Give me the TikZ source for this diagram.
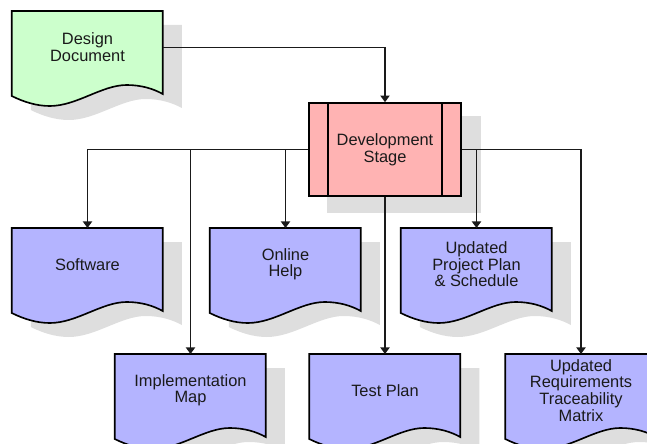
\documentclass[tikz,border=0pt]{standalone}
\usepackage{fontspec}
\setmainfont{Liberation Sans}
\usepackage{tikz}
\usetikzlibrary{arrows.meta,positioning,calc,backgrounds}
\definecolor{docgreen}{HTML}{CCFFCC}
\definecolor{devpink}{HTML}{FFB3B3}
\definecolor{docblue}{HTML}{B4B4FF}
\definecolor{shadowgrey}{HTML}{DEDEDE}
\definecolor{ink}{HTML}{1A1A1A}
\tikzset{
    every picture/.style={line join=miter},
    docpath/.style={insert path={(0,0) -- (151,0) -- (151,83)
      .. controls (142,78) and (130,74) .. (115,74)
      .. controls (90,74) and (65,95) .. (38,95)
      .. controls (25,95) and (12,91) .. (0,85) -- cycle}},
    docline/.style={draw=black,line width=1.4pt},
    docnode/.style={anchor=north,minimum width=45.3mm,minimum height=21.6mm,
      inner sep=0pt,align=center,text=ink,font=\fontsize{14}{14.2}\selectfont},
    devnode/.style={docline,fill=devpink,minimum width=45.6mm,minimum height=27.9mm,
      inner sep=0pt,align=center,text=ink,font=\fontsize{14}{14.2}\selectfont},
    flowarrow/.style={-{Triangle[length=2mm,width=2.8mm]},draw=ink,
      line width=1.15pt}
}
\begin{document}
\begin{tikzpicture}[x=0.3mm,y=-0.3mm]
  \useasboundingbox (0,0) rectangle (647,444);
  % documents
  \node[docnode] (design) at (87.5,11) {Design\\Document};
  \node[devnode] (dev) at (385,149.5) {Development\\Stage};
  \node[docnode] (soft) at (87.5,228) {Software};
  \node[docnode] (help) at (285.5,228) {Online\\Help};
  \node[docnode] (plan) at (476.5,228) {Updated\\Project Plan\\\& Schedule};
  \node[docnode] (impl) at (190.5,354) {Implementation\\Map};
  \node[docnode] (test) at (385,354) {Test Plan};
  \node[docnode] (rtm) at (581,354) {Updated\\Requirements\\Traceability\\Matrix};
  \draw[docline] ($(dev.north west)+(20,0)$) -- ($(dev.south west)+(20,0)$);
  \draw[docline] ($(dev.north east)+(-20,0)$) -- ($(dev.south east)+(-20,0)$);
  % shapes and shadows
  \begin{scope}[on background layer]
    \fill[shadowgrey] ($(dev.north west)+(19,14)$) rectangle ($(dev.south east)+(19,16)$);
    \foreach \n/\c in {design/docgreen,soft/docblue,help/docblue,plan/docblue,
                       impl/docblue,test/docblue,rtm/docblue} {
      \fill[shadowgrey,shift={($(\n.north west)+(19,14)$)},docpath];
      \filldraw[docline,fill=\c,shift={(\n.north west)},docpath];
    }
  \end{scope}
  % connectors
  \draw[flowarrow] (design.east) -| (dev.north);
  \foreach \t in {soft,impl,help}
    \draw[flowarrow] (dev.west) -| (\t.north);
  \draw[flowarrow] (dev.south) -- (test.north);
  \foreach \t in {plan,rtm}
    \draw[flowarrow] (dev.east) -| (\t.north);
\end{tikzpicture}
\end{document}
